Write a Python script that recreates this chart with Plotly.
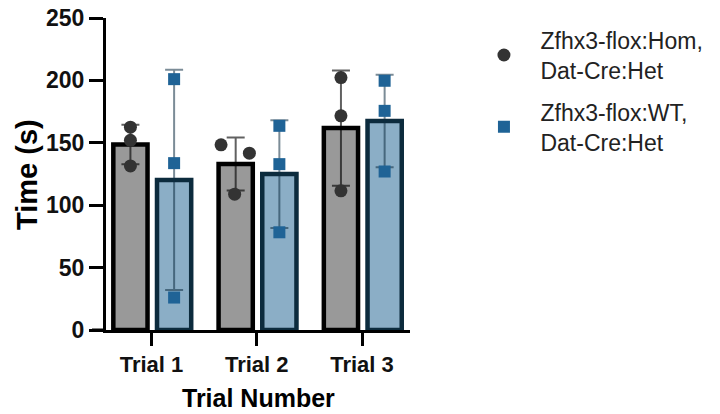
import numpy as np
import plotly.graph_objects as go

categories = ["Trial 1", "Trial 2", "Trial 3"]
hom_name = "Zfhx3-flox:Hom,<br>Dat-Cre:Het"
wt_name = "Zfhx3-flox:WT,<br>Dat-Cre:Het"
hom_trial1 = [162.5, 152.0, 131.5]
hom_trial2 = [148.4, 141.7, 108.8]
hom_trial3 = [202.3, 171.6, 111.5]
wt_trial1 = [201.0, 133.7, 26.0]
wt_trial2 = [163.6, 132.9, 78.3]
wt_trial3 = [199.7, 175.6, 127.0]
y_ticks = [0, 50, 100, 150, 200, 250]

hom = [hom_trial1, hom_trial2, hom_trial3]
wt = [wt_trial1, wt_trial2, wt_trial3]
hom_mean = [float(np.mean(v)) for v in hom]
hom_sd = [float(np.std(v, ddof=1)) for v in hom]
wt_mean = [float(np.mean(v)) for v in wt]
wt_sd = [float(np.std(v, ddof=1)) for v in wt]

# style / layout constants
xpos = np.arange(len(categories))
bar_w = 0.325
hom_off = -0.20
wt_off = 0.215
hom_jitter = [[0, 0, 0], [-0.139, 0.13, -0.01], [0, 0, 0]]
FONT = "Liberation Sans, Arial, sans-serif"

fig = go.Figure()
fig.add_trace(go.Bar(
    x=xpos, y=hom_mean, width=bar_w, offset=hom_off - bar_w / 2,
    marker=dict(color="#999999", line=dict(color="#000000", width=4.5)),
    error_y=dict(type="data", array=hom_sd, visible=True, color="rgba(0,0,0,0.62)",
                 thickness=2, width=9),
    showlegend=False, hoverinfo="skip"))
fig.add_trace(go.Bar(
    x=xpos, y=wt_mean, width=bar_w, offset=wt_off - bar_w / 2,
    marker=dict(color="#8BAEC6", line=dict(color="#0C2B3D", width=4.5)),
    error_y=dict(type="data", array=wt_sd, visible=True, color="rgba(15,45,65,0.55)",
                 thickness=2, width=9),
    showlegend=False, hoverinfo="skip"))

hx, hy, wx, wy = [], [], [], []
for i in range(len(categories)):
    for j, v in enumerate(hom[i]):
        hx.append(xpos[i] + hom_off + hom_jitter[i][j])
        hy.append(v)
    for v in wt[i]:
        wx.append(xpos[i] + wt_off)
        wy.append(v)

fig.add_trace(go.Scatter(
    x=hx, y=hy, mode="markers", name=hom_name, legendgroup="a",
    marker=dict(symbol="circle", size=13, color="#333333")))
fig.add_trace(go.Scatter(
    x=wx, y=wy, mode="markers", name=wt_name, legendgroup="b",
    marker=dict(symbol="square", size=12, color="#1F6396")))

# left extension of the x-axis line (Prism style)
fig.add_shape(type="line", xref="paper", yref="y", x0=-0.046, x1=0, y0=0, y1=0,
              line=dict(color="black", width=3))

# axis titles
fig.add_annotation(text="<b>Trial Number</b>", xref="paper", yref="paper",
                   x=0.5, y=-0.218, xanchor="center", yanchor="middle",
                   showarrow=False, font=dict(size=25, family=FONT, color="black"))
fig.add_annotation(text="<b>Time (s)</b>", xref="paper", yref="paper",
                   x=-0.26, y=0.5, xanchor="center", yanchor="middle", textangle=-90,
                   showarrow=False, font=dict(size=29, family=FONT, color="black"))

fig.update_layout(
    width=720, height=414,
    margin=dict(l=106, r=302, t=18, b=84),
    paper_bgcolor="white", plot_bgcolor="white",
    font=dict(family=FONT, color="black"),
    barmode="overlay",
    showlegend=True,
    legend=dict(x=1.189, y=0.998, xanchor="left", yanchor="top",
                font=dict(size=23, color="#222222", family=FONT),
                tracegroupgap=9, itemwidth=63, valign="middle",
                bgcolor="rgba(0,0,0,0)"),
    xaxis=dict(range=[-0.432, 2.456], tickmode="array", tickvals=list(xpos),
               ticktext=categories, showgrid=False, zeroline=False,
               showline=True, linecolor="black", linewidth=3, automargin=False,
               ticks="outside", ticklen=13, tickwidth=3, tickcolor="black",
               tickfont=dict(size=22, family=FONT, color="#111111", weight="bold")),
    yaxis=dict(range=[0, 250], tickmode="array", tickvals=y_ticks,
               showgrid=False, zeroline=False, automargin=False,
               showline=True, linecolor="black", linewidth=3,
               ticks="outside", ticklen=14, tickwidth=3, tickcolor="black",
               tickfont=dict(size=23, family=FONT, color="#111111", weight="bold")),
)

fig.write_html("out.html")
